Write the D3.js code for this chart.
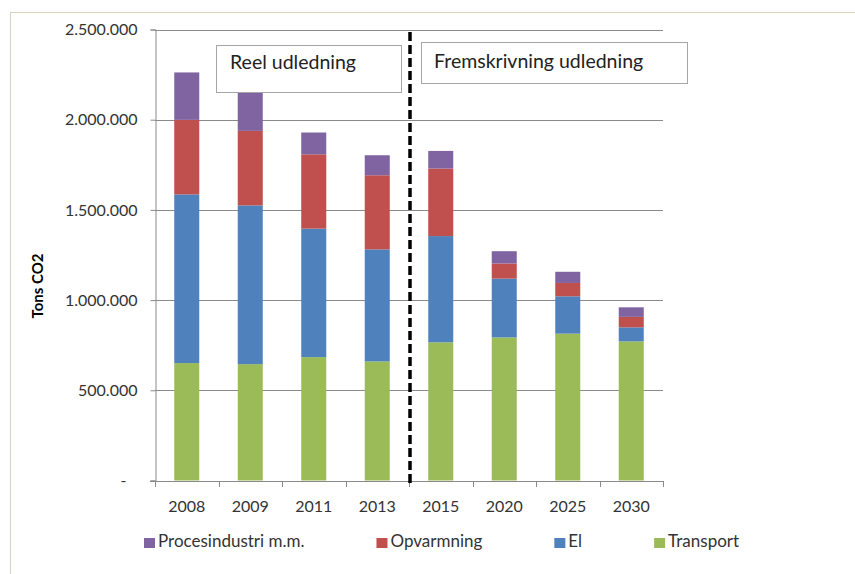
<!DOCTYPE html>
<html><head><meta charset="utf-8">
<script src="https://cdn.jsdelivr.net/npm/d3@7/dist/d3.min.js"></script>
<style>
html,body{margin:0;padding:0;background:#fff;}
svg{display:block;}
text{font-family:Lato,"Open Sans",sans-serif;}
</style></head>
<body>
<svg id="chart" width="855" height="574"></svg>
<script>
// ---- data ----
const categories = ["2008","2009","2011","2013","2015","2020","2025","2030"];
const transport      = [651000, 645000, 684000, 660000, 766000, 793000, 814000, 771000];
const el             = [935000, 880000, 712000, 621000, 589000, 326000, 207000,  78000];
const opvarmning     = [413000, 413000, 412000, 411000, 374000,  84000,  74000,  58000];
const procesindustri = [263000, 212000, 121000, 111000,  98000,  68000,  62000,  53000];
const seriesNames = ["Transport","El","Opvarmning","Procesindustri m.m."];
const legendOrder = ["Procesindustri m.m.","Opvarmning","El","Transport"];
const yTicks = [0, 500000, 1000000, 1500000, 2000000, 2500000];
const yTitle = "Tons CO2";
const annotationTexts = ["Reel udledning", "Fremskrivning udledning"];
const splitAfter = "2013";

// ---- styles / layout ----
const colors = {"Transport":"#9BBB59","El":"#4F81BD","Opvarmning":"#C0504D","Procesindustri m.m.":"#8064A2"};
const plot = {left:155, right:663, top:29.5, bottom:480.5};

const svg = d3.select("#chart");
const loc = d3.formatLocale({decimal:",", thousands:".", grouping:[3], currency:["",""]});
const fmt = loc.format(",.0f");

// frame
svg.append("rect").attr("x",10.5).attr("y",12.5).attr("width",900).attr("height",600)
  .attr("fill","none").attr("stroke","#d9d3bf").attr("stroke-width",1);

const x = d3.scaleBand().domain(categories).range([plot.left, plot.right])
  .paddingInner(0.606).paddingOuter(0.303);
const y = d3.scaleLinear().domain([0, 2500000]).range([plot.bottom, plot.top]);

// gridlines
svg.append("g").selectAll("line").data(yTicks.filter(d=>d>0)).join("line")
  .attr("x1",plot.left).attr("x2",plot.right)
  .attr("y1",d=>Math.round(y(d))+0.5).attr("y2",d=>Math.round(y(d))+0.5)
  .attr("stroke","#8a8a8a").attr("stroke-width",1);

// stacked bars
const table = categories.map((c,i)=>({cat:c, "Transport":transport[i], "El":el[i], "Opvarmning":opvarmning[i], "Procesindustri m.m.":procesindustri[i]}));
const stacked = d3.stack().keys(seriesNames)(table);
svg.append("g").selectAll("g").data(stacked).join("g")
  .attr("fill",d=>colors[d.key])
  .selectAll("rect").data(d=>d).join("rect")
  .attr("x",d=>x(d.data.cat)).attr("width",x.bandwidth())
  .attr("y",d=>y(d[1])).attr("height",d=>y(d[0])-y(d[1]));

// y axis
const yAxis = d3.axisLeft(y).tickValues(yTicks).tickSize(5).tickPadding(13)
  .tickFormat(d=> d===0 ? "-" : fmt(d));
const gy = svg.append("g").attr("transform",`translate(${plot.left+0.5},0)`).call(yAxis);
gy.select(".domain").attr("stroke","#8a8a8a");
gy.selectAll(".tick line").attr("stroke","#8a8a8a");
gy.selectAll(".tick text").attr("font-size","16px").attr("fill","#333")
  .attr("font-family","Lato, 'Open Sans', sans-serif");
gy.selectAll(".tick").filter(d=>d===0).select("text").attr("dx","-11");

// x axis
const step = x.step();
const xg = svg.append("g");
xg.append("line").attr("x1",plot.left-5).attr("x2",plot.right)
  .attr("y1",Math.round(plot.bottom)+0.5).attr("y2",Math.round(plot.bottom)+0.5).attr("stroke","#8a8a8a");
xg.selectAll("line.t").data(d3.range(categories.length+1)).join("line").attr("class","t")
  .attr("x1",i=>Math.round(plot.left+i*step)+0.5).attr("x2",i=>Math.round(plot.left+i*step)+0.5)
  .attr("y1",Math.round(plot.bottom)).attr("y2",Math.round(plot.bottom)+6).attr("stroke","#8a8a8a");
xg.selectAll("text").data(categories).join("text")
  .attr("x",d=>x(d)+x.bandwidth()/2).attr("y",512)
  .attr("text-anchor","middle").attr("font-size","16px").attr("fill","#333").text(d=>d);

// y title
svg.append("text").attr("transform","translate(43,286) rotate(-90)")
  .attr("text-anchor","middle").attr("font-size","15px").attr("font-weight","bold")
  .attr("fill","#000").text(yTitle);

// split dashed line
const splitX = x(splitAfter) + x.bandwidth() + (step - x.bandwidth())/2 + 1;
svg.append("line").attr("x1",splitX).attr("x2",splitX).attr("y1",32).attr("y2",483)
  .attr("stroke","#000").attr("stroke-width",3.5).attr("stroke-dasharray","9,4");

// annotation boxes
const boxes = [{x:216, y:45, w:185, h:47, tx:230, ty:69},{x:421, y:42, w:266, h:41, tx:434, ty:68}];
boxes.forEach((b,i)=>{
  svg.append("rect").attr("x",b.x+0.5).attr("y",b.y+0.5).attr("width",b.w).attr("height",b.h)
    .attr("fill","#fff").attr("stroke","#a6a6a6").attr("stroke-width",1);
  svg.append("text").attr("x",b.tx).attr("y",b.ty).attr("font-size","19.5px").attr("fill","#222")
    .text(annotationTexts[i]);
});

// legend
const lg = svg.append("g");
let lx = 144;
legendOrder.forEach(name=>{
  lg.append("rect").attr("x",lx).attr("y",538).attr("width",11).attr("height",10).attr("fill",colors[name]);
  const t = lg.append("text").attr("x",lx+14).attr("y",547).attr("font-size","17px").attr("fill","#333").text(name);
  const w = t.node().getComputedTextLength();
  lx = lx + 14 + w + 72;
});
</script>
</body></html>
